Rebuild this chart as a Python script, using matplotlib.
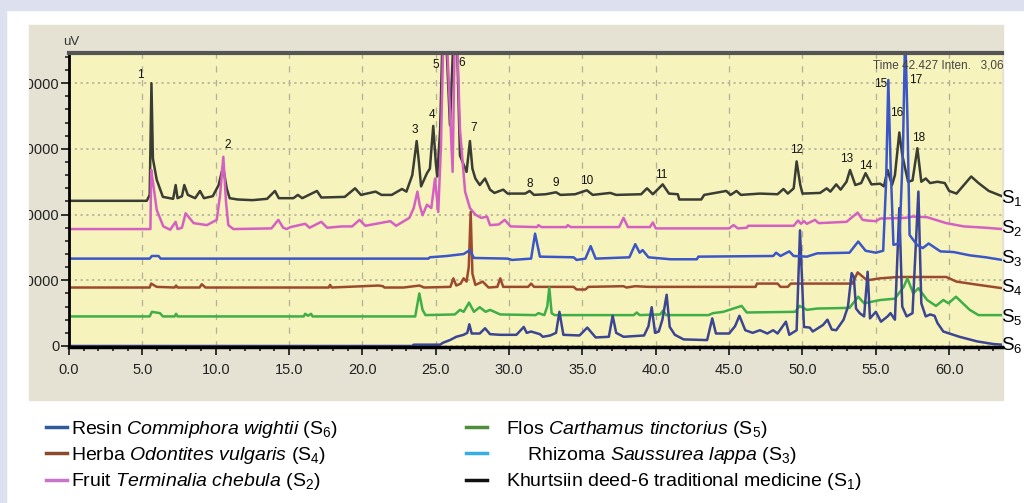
import matplotlib
matplotlib.use("Agg")
import matplotlib.pyplot as plt
from matplotlib.patches import Rectangle
from matplotlib.lines import Line2D
from matplotlib.transforms import Bbox, TransformedBbox

plt.rcParams['font.family'] = ['Liberation Sans', 'DejaVu Sans']
plt.rcParams['mathtext.fontset'] = 'custom'
plt.rcParams['mathtext.rm'] = 'Liberation Sans'
plt.rcParams['mathtext.it'] = 'Liberation Sans:italic'

# retention time (min) and intensity (millions of uV)
s1_t = [0.0, 5.3, 5.5, 5.62, 5.72, 5.98, 6.4, 7.1, 7.27, 7.4, 7.7, 7.86, 8.1, 8.6, 8.93, 9.2, 9.8,
        10.2, 10.5, 10.75, 10.95, 11.5, 12.5, 13.5, 14.04, 14.3, 15.3, 15.6, 15.9, 16.9, 17.2, 18.8,
        19.5, 19.9, 20.9, 21.3, 22.0, 22.7, 23.0, 23.4, 23.7, 23.85, 24.0, 24.4, 24.6, 24.83, 25.0,
        25.1, 25.3, 25.55, 25.97, 26.35, 26.65, 27.1, 27.33, 27.5, 27.7, 28.0, 28.36, 28.7, 29.0,
        29.6, 29.9, 31.1, 31.4, 31.7, 32.5, 33.2, 33.5, 34.5, 35.3, 35.7, 36.9, 37.3, 39.0, 39.4,
        39.8, 40.47, 40.9, 41.5, 41.6, 43.1, 43.3, 44.8, 45.1, 45.5, 45.8, 47.1, 48.3, 48.7, 49.0,
        49.4, 49.6, 49.85, 50.0, 51.2, 51.65, 51.9, 52.3, 52.6, 53.0, 53.24, 53.6, 54.0, 54.3, 54.7,
        55.3, 55.55, 55.8, 56.1, 56.3, 56.6, 56.8, 57.0, 57.2, 57.5, 57.83, 58.1, 58.4, 58.7, 59.2,
        59.7, 60.0, 60.5, 61.0, 61.5, 62.0, 62.7, 63.6]
s1_v = [2.21, 2.21, 2.30, 4.00, 2.85, 2.53, 2.27, 2.24, 2.45, 2.25, 2.28, 2.45, 2.30, 2.25, 2.36, 2.25, 2.28,
        2.45, 2.73, 2.40, 2.25, 2.23, 2.22, 2.24, 2.36, 2.25, 2.25, 2.30, 2.25, 2.36, 2.26, 2.27,
        2.40, 2.30, 2.35, 2.30, 2.30, 2.39, 2.35, 2.60, 3.12, 2.80, 2.43, 2.63, 2.70, 3.35, 2.80,
        2.58, 3.30, 5.50, 3.36, 5.50, 2.90, 2.65, 3.12, 2.70, 2.55, 2.45, 2.55, 2.38, 2.33,
        2.38, 2.32, 2.32, 2.36, 2.30, 2.31, 2.34, 2.30, 2.31, 2.37, 2.30, 2.33, 2.30, 2.31, 2.40,
        2.31, 2.46, 2.32, 2.31, 2.23, 2.23, 2.30, 2.36, 2.30, 2.36, 2.30, 2.32, 2.31, 2.39, 2.32,
        2.40, 2.81, 2.45, 2.32, 2.33, 2.40, 2.35, 2.46, 2.38, 2.50, 2.68, 2.45, 2.48, 2.63, 2.46,
        2.47, 2.43, 2.68, 2.45, 2.60, 3.25, 2.91, 2.70, 2.50, 2.52, 3.01, 2.50, 2.55, 2.48, 2.50,
        2.48, 2.36, 2.32, 2.45, 2.58, 2.48, 2.36, 2.28]

s2_t = [0.0, 5.55, 5.6, 5.75, 5.98, 6.43, 6.9, 7.27, 7.4, 7.7, 7.95, 8.5, 9.4, 10.07, 10.3, 10.52,
        10.7, 10.86, 11.2, 13.8, 14.27, 14.6, 14.84, 15.1, 16.1, 16.4, 17.2, 17.6, 18.6, 19.3, 19.8,
        20.2, 21.9, 22.3, 22.9, 23.2, 23.5, 23.75, 23.9, 24.1, 24.4, 24.7, 24.95, 25.17, 25.35, 25.6,
        26.15, 26.35, 26.65, 27.0, 27.33, 27.7, 28.1, 28.5, 28.7, 29.3, 29.7, 30.1, 31.9, 32.0, 32.2,
        33.9, 34.0, 34.2, 37.5, 37.8, 38.1, 39.6, 39.8, 40.0, 45.0, 45.3, 45.6, 46.2, 46.3, 49.4,
        49.7, 49.9, 50.1, 50.3, 50.85, 51.1, 53.0, 53.76, 54.1, 54.4, 55.0, 55.3, 57.0, 57.5, 58.5,
        59.8, 61.0, 62.5, 63.6]
s2_v = [1.78, 1.78, 2.68, 2.45, 2.07, 1.82, 1.77, 1.89, 1.78, 1.80, 2.02, 1.87, 1.84, 1.92, 2.30, 2.88,
        2.20, 1.84, 1.78, 1.79, 1.92, 1.80, 1.78, 1.81, 1.86, 1.80, 1.89, 1.80, 1.82, 1.82, 1.92,
        1.83, 1.90, 1.83, 1.91, 1.95, 2.10, 2.35, 2.15, 1.99, 2.15, 2.10, 2.55, 2.04, 3.00, 5.50,
        2.65, 5.50, 3.30, 2.35, 2.10, 2.00, 1.95, 1.97, 1.84, 1.85, 1.92, 1.82, 1.81, 1.84, 1.81,
        1.81, 1.84, 1.81, 1.81, 1.95, 1.81, 1.81, 1.88, 1.79, 1.79, 1.84, 1.79, 1.80, 1.83, 1.83,
        1.91, 1.86, 1.90, 1.86, 1.92, 1.87, 1.89, 2.03, 1.92, 1.91, 1.90, 1.94, 1.95, 1.97, 1.96,
        1.87, 1.82, 1.80, 1.78]

s3_t = [0.0, 5.5, 5.65, 6.1, 6.25, 24.5, 24.6, 25.75, 26.9, 27.33, 27.6, 29.9, 30.2, 31.5, 31.77,
        32.1, 34.4, 34.6, 35.2, 35.56, 35.9, 38.2, 38.6, 38.9, 39.1, 39.5, 40.5, 41.0, 42.8, 42.9,
        48.0, 48.2, 48.5, 49.1, 49.4, 50.3, 51.0, 53.2, 53.8, 54.3, 55.0, 55.5, 55.7, 55.85, 56.0,
        56.2, 56.6, 56.85, 57.0, 57.15, 57.3, 57.8, 58.2, 58.6, 59.4, 60.3, 61.4, 62.5, 63.6]
s3_v = [1.33, 1.33, 1.37, 1.37, 1.33, 1.33, 1.35, 1.37, 1.40, 1.46, 1.34, 1.33, 1.31, 1.33, 1.71,
        1.36, 1.35, 1.31, 1.33, 1.52, 1.33, 1.35, 1.55, 1.42, 1.46, 1.35, 1.33, 1.32, 1.32, 1.36,
        1.37, 1.42, 1.37, 1.44, 1.37, 1.36, 1.41, 1.42, 1.59, 1.45, 1.42, 1.45, 2.50, 4.05, 2.80,
        1.54, 1.56, 3.00, 4.80, 3.50, 1.69, 1.54, 1.49, 1.56, 1.44, 1.43, 1.38, 1.35, 1.31]

s4_t = [0.0, 5.5, 5.6, 5.98, 7.2, 7.3, 7.4, 8.9, 9.05, 9.3, 17.7, 17.8, 17.9, 21.1, 21.4, 21.5, 22.8,
        23.9, 24.2, 26.0, 26.2, 26.4, 26.7, 26.9, 27.1, 27.25, 27.38, 27.5, 27.7, 28.2, 28.6, 29.2,
        29.4, 29.6, 31.3, 31.5, 31.7, 34.4, 34.6, 35.2, 35.4, 37.8, 38.0, 38.6, 39.5, 46.8, 46.9,
        48.3, 48.5, 49.0, 49.2, 53.4, 53.76, 54.4, 55.3, 56.5, 59.8, 60.5, 62.0, 63.6]
s4_v = [0.89, 0.89, 0.95, 0.90, 0.89, 0.92, 0.89, 0.89, 0.94, 0.89, 0.89, 0.93, 0.89, 0.92, 0.91, 0.89, 0.89,
        0.92, 0.89, 0.90, 1.03, 0.92, 0.95, 1.03, 0.98, 1.20, 2.04, 1.10, 0.93, 0.98, 0.89, 0.90,
        1.03, 0.90, 0.90, 0.95, 0.90, 0.90, 0.86, 0.86, 0.90, 0.91, 0.89, 0.91, 0.90, 0.90, 0.95,
        0.95, 0.90, 0.90, 0.95, 0.95, 1.12, 1.00, 1.03, 1.05, 1.05, 0.98, 0.93, 0.88]

s5_t = [0.0, 5.5, 5.65, 6.2, 6.4, 7.2, 7.3, 7.4, 16.0, 16.1, 16.3, 16.5, 16.6, 23.6, 23.88, 24.1,
        24.3, 26.3, 26.65, 26.9, 27.27, 27.6, 28.0, 28.4, 28.7, 29.4, 31.8, 32.0, 32.4, 32.6, 32.74,
        32.9, 33.1, 38.5, 38.7, 38.9, 40.3, 40.5, 40.7, 43.6, 43.9, 44.6, 45.85, 46.2, 49.5, 49.8,
        50.3, 51.0, 53.2, 53.8, 54.2, 55.3, 56.3, 56.9, 57.15, 57.55, 57.9, 58.5, 59.1, 59.6, 59.95,
        60.46, 61.4, 62.0, 63.6]
s5_v = [0.45, 0.45, 0.52, 0.50, 0.45, 0.45, 0.49, 0.45, 0.45, 0.49, 0.46, 0.49, 0.45, 0.45, 0.80, 0.55,
        0.47, 0.48, 0.55, 0.52, 0.66, 0.52, 0.59, 0.52, 0.55, 0.48, 0.47, 0.50, 0.47, 0.60, 0.89,
        0.50, 0.47, 0.47, 0.51, 0.47, 0.48, 0.54, 0.47, 0.47, 0.50, 0.52, 0.61, 0.51, 0.52, 0.61,
        0.55, 0.57, 0.58, 0.75, 0.65, 0.70, 0.72, 0.90, 1.03, 0.80, 0.88, 0.70, 0.61, 0.70, 0.65,
        0.75, 0.55, 0.47, 0.47]

s6_t = [0.0, 23.4, 23.5, 25.3, 25.5, 25.97, 26.4, 26.9, 27.15, 27.29, 27.45, 28.0, 28.36, 28.7, 29.4,
        30.5, 31.0, 31.2, 31.5, 32.1, 32.3, 32.8, 33.2, 33.43, 33.7, 34.8, 35.33, 35.9, 36.8, 37.06,
        37.3, 37.8, 39.2, 39.5, 39.72, 39.95, 40.2, 40.45, 40.74, 40.95, 41.3, 41.9, 43.5, 43.85,
        44.1, 45.0, 45.4, 45.7, 46.1, 46.6, 47.1, 47.6, 48.0, 48.3, 48.87, 49.1, 49.6, 49.83, 50.1,
        50.5, 50.7, 51.4, 51.7, 52.0, 52.3, 52.8, 53.1, 53.35, 53.5, 53.65, 53.9, 54.2, 54.44, 54.6,
        55.0, 55.35, 55.8, 56.0, 56.3, 56.6, 56.8, 57.1, 57.5, 57.9, 58.1, 58.4, 58.7, 59.0, 59.2,
        59.6, 60.7, 61.9, 63.0, 63.6]
s6_v = [0.0, 0.0, 0.02, 0.02, 0.05, 0.09, 0.14, 0.17, 0.20, 0.33, 0.19, 0.19, 0.27, 0.18, 0.17,
        0.17, 0.29, 0.20, 0.22, 0.18, 0.14, 0.16, 0.20, 0.52, 0.17, 0.16, 0.28, 0.13, 0.14, 0.46,
        0.20, 0.14, 0.16, 0.30, 0.59, 0.20, 0.22, 0.40, 0.78, 0.29, 0.17, 0.10, 0.09, 0.42,
        0.19, 0.19, 0.30, 0.46, 0.24, 0.20, 0.24, 0.19, 0.24, 0.19, 0.37, 0.17, 0.24, 1.76, 0.29,
        0.28, 0.22, 0.32, 0.40, 0.25, 0.24, 0.40, 0.60, 1.11, 1.05, 0.57, 0.50, 0.45, 1.13, 0.42,
        0.52, 0.37, 0.45, 0.50, 0.40, 2.10, 0.60, 0.45, 0.50, 2.35, 0.65, 0.45, 0.48, 0.46, 0.35,
        0.22, 0.14, 0.07, 0.03, 0.02]

peak_ids = [str(i) for i in range(1, 19)]
peak_x = [4.84, 10.84, 23.6, 24.74, 25.0, 26.8, 27.6, 31.4, 33.2, 35.3, 40.4, 49.6, 53.0, 54.3, 55.3,
          56.4, 57.7, 57.9]
peak_y = [4.12, 3.06, 3.29, 3.52, 4.28, 4.31, 3.32, 2.47, 2.48, 2.51, 2.60, 2.98, 2.85, 2.74, 3.99,
          3.55, 4.05, 3.17]

x_ticks = [0, 5, 10, 15, 20, 25, 30, 35, 40, 45, 50, 55, 60]
y_ticks = [0, 1, 2, 3, 4]
y_ticklabels = ['0', '1000000', '2000000', '3000000', '4000000']

traces = [
    (s1_t, s1_v, '#3a3d33'),
    (s2_t, s2_v, '#d460c2'),
    (s4_t, s4_v, '#9c4a2f'),
    (s5_t, s5_v, '#3fae47'),
    (s6_t, s6_v, '#3b4592'),
    (s3_t, s3_v, '#3b56c6'),
]
trace_tags = ['S$_1$', 'S$_2$', 'S$_3$', 'S$_4$', 'S$_5$', 'S$_6$']
tag_y = [198, 228, 258, 287, 317, 345]

legend_left = [
    r'Resin $\mathit{Commiphora\ wightii}$ (S$_6$)',
    r'Herba $\mathit{Odontites\ vulgaris}$ (S$_4$)',
    r'Fruit $\mathit{Terminalia\ chebula}$ (S$_2$)',
]
legend_right = [
    r'Flos $\mathit{Carthamus\ tinctorius}$ (S$_5$)',
    r'    Rhizoma $\mathit{Saussurea\ lappa}$ (S$_3$)',
    r'Khurtsiin deed-6 traditional medicine (S$_1$)',
]
colors_left = ['#2f5a9e', '#8b4a2b', '#c874c8']
colors_right = ['#4e8f3e', '#35aee6', '#111111']

W, H = 1024, 503
fig = plt.figure(figsize=(W / 100, H / 100), dpi=100)
fig.patch.set_facecolor('white')
fig.add_artist(Rectangle((0, 0), 6 / W, 1, transform=fig.transFigure, color='#dce0ef', zorder=-10))
fig.add_artist(Rectangle((0, 1 - 10 / H), 1, 10 / H, transform=fig.transFigure, color='#dce0ef', zorder=-10))
fig.add_artist(Rectangle((29 / W, 1 - 400 / H), 974 / W, 375 / H, transform=fig.transFigure,
                         color='#e5e2d4', zorder=-9))

ax = fig.add_axes([69 / W, 1 - 347.3 / H, 933 / W, 294.3 / H])
ax.set_facecolor('#f7f3bc')

for t, v, c in traces:
    ax.plot(t, v, color=c, lw=1.8, solid_joinstyle='round')

ax.set_xlim(0, 63.6)
ax.set_ylim(-0.02, 4.46)
ax.set_xticks(x_ticks)
ax.set_xticklabels(['%.1f' % x for x in x_ticks])
ax.set_xticks(range(0, 64), minor=True)
ax.set_yticks(y_ticks)
ax.set_yticklabels(y_ticklabels)
ax.set_yticks([i * 0.2 for i in range(23)], minor=True)
ax.tick_params(which='major', direction='out', length=6, width=1.3, labelsize=10.5, colors='#222222')
ax.tick_params(which='minor', direction='out', length=3, width=1.2, colors='#222222')
ax.tick_params(axis='x', pad=5)
ax.tick_params(axis='y', pad=1)

ax.spines['right'].set_visible(False)
ax.spines['left'].set_linewidth(2)
ax.spines['bottom'].set_linewidth(2.5)
ax.spines['top'].set_linewidth(3)
ax.spines['top'].set_color('#555555')

ax.grid(axis='x', which='major', linestyle=(0, (5, 6)), color='#b3b09a', lw=0.9)
ax.grid(axis='y', which='major', linestyle=(0, (1.2, 2)), color='#b7b49f', lw=1.3)

clip = TransformedBbox(Bbox.from_bounds(29 / W, 0, 1, 1), fig.transFigure)
for lbl in ax.get_yticklabels():
    lbl.set_clip_box(clip)
    lbl.set_clip_on(True)

for pid, px, py in zip(peak_ids, peak_x, peak_y):
    ax.text(px, py, pid, fontsize=8.5, ha='center', va='center', color='#111111')

ax.text(0.862, 0.959, 'Time 42.427 Inten.   3,06', transform=ax.transAxes, fontsize=8.5,
        color='#444444', va='center', ha='left')
fig.text(63 / W, 1 - 42 / H, 'uV', fontsize=9.5, color='#333333', va='center')

for tag, y in zip(trace_tags, tag_y):
    fig.text(1001 / W, 1 - y / H, tag, fontsize=13.5, va='center', ha='left')

leg_kw = dict(loc='upper left', frameon=False, fontsize=14, handlelength=1.1,
              labelspacing=0.27, borderpad=0, borderaxespad=0)
fig.legend([Line2D([], [], color=c, lw=2.5) for c in colors_left], legend_left,
           bbox_to_anchor=(46 / W, 1 - 419 / H), handletextpad=0.2, **leg_kw)
fig.legend([Line2D([], [], color=c, lw=2.5) for c in colors_right], legend_right,
           bbox_to_anchor=(466 / W, 1 - 419 / H), handletextpad=0.95, **leg_kw)

fig.savefig('out.png', dpi=100)
